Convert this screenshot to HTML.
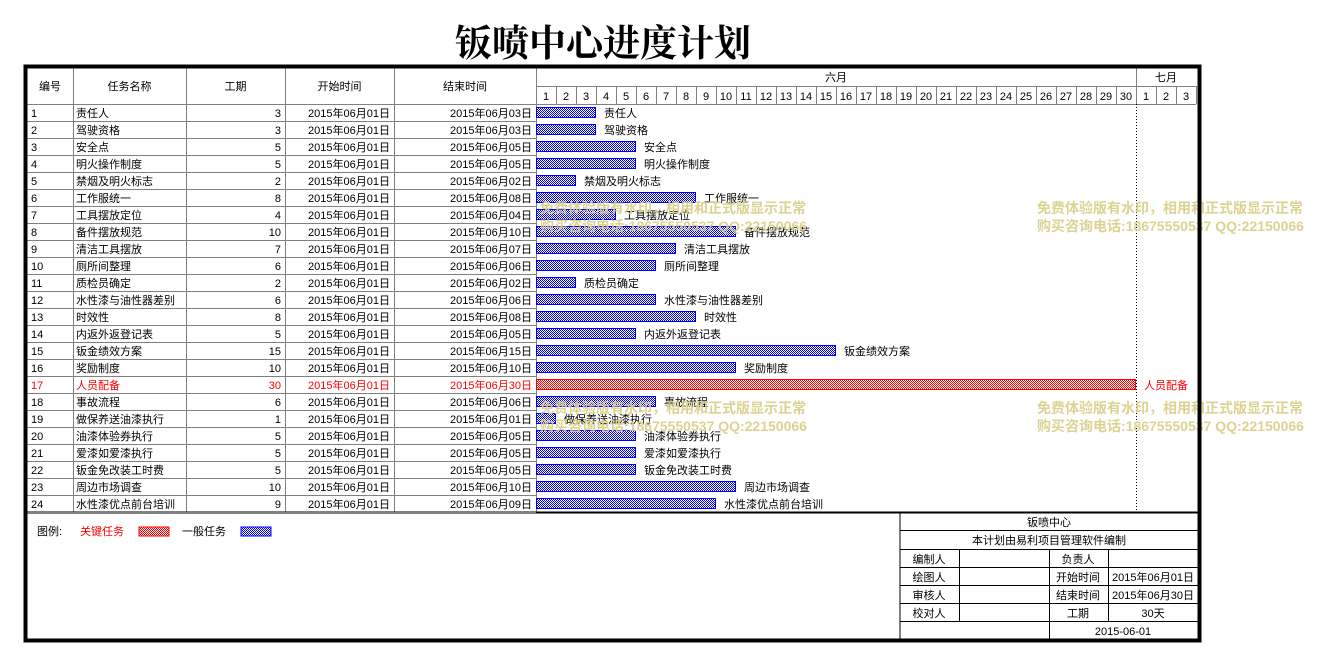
<!DOCTYPE html>
<html><head><meta charset="utf-8">
<style>
html,body{margin:0;padding:0;background:#fff;}
svg{display:block;font-family:"Liberation Sans","Noto Sans CJK SC",sans-serif;}
</style></head>
<body>
<svg id="chart" width="1320" height="667" viewBox="0 0 1320 667">
<defs>
<pattern id="pb" width="2" height="2" patternUnits="userSpaceOnUse"><rect width="2" height="2" fill="#fff"/><rect width="1" height="1" fill="#00f"/><rect x="1" y="1" width="1" height="1" fill="#00f"/></pattern>
<pattern id="pr" width="2" height="2" patternUnits="userSpaceOnUse"><rect width="2" height="2" fill="#fff"/><rect width="1" height="1" fill="#f00"/><rect x="1" y="1" width="1" height="1" fill="#f00"/></pattern>
</defs>
<text x="603" y="56" text-anchor="middle" font-size="37" font-weight="bold" font-family="'Liberation Serif','Noto Serif CJK SC',serif">钣喷中心进度计划</text>
<g id="grid"></g>
<g id="rows"></g>
<g id="bars"></g>
<g id="wm" fill="#d9cf86" font-size="14" font-weight="bold" opacity="0.9">
<text x="1037" y="213">免费体验版有水印，相用和正式版显示正常</text>
<text x="1037" y="231">购买咨询电话:18675550537 QQ:22150066</text>
<text x="1037" y="413">免费体验版有水印，相用和正式版显示正常</text>
<text x="1037" y="431">购买咨询电话:18675550537 QQ:22150066</text>
<text x="540" y="213">免费体验版有水印，相用和正式版显示正常</text>
<text x="540" y="231">购买咨询电话:18675550537 QQ:22150066</text>
<text x="540" y="413">免费体验版有水印，相用和正式版显示正常</text>
<text x="540" y="431">购买咨询电话:18675550537 QQ:22150066</text>
</g>
<g id="legend" font-size="11">
<text x="37" y="535">图例:</text>
<text x="80" y="535" fill="#f00">关键任务</text>
<rect x="139" y="527" width="30" height="9" fill="url(#pr)" stroke="#f00"/>
<text x="182" y="535">一般任务</text>
<rect x="241" y="527" width="30" height="9" fill="url(#pb)" stroke="#00f"/>
</g>
<g id="info" font-size="11" text-anchor="middle" stroke-width="1">
<g stroke="#000" fill="none">
<line x1="900" y1="513" x2="900" y2="640"/>
<line x1="900" y1="530.5" x2="1198" y2="530.5"/>
<line x1="900" y1="549.5" x2="1198" y2="549.5"/>
<line x1="900" y1="567.5" x2="1198" y2="567.5"/>
<line x1="900" y1="585.5" x2="1198" y2="585.5"/>
<line x1="900" y1="603.5" x2="1198" y2="603.5"/>
<line x1="900" y1="621.5" x2="1198" y2="621.5"/>
<line x1="959.5" y1="549" x2="959.5" y2="621"/>
<line x1="1049.5" y1="549" x2="1049.5" y2="640"/>
<line x1="1108.5" y1="549" x2="1108.5" y2="621"/>
</g>
<text x="1049" y="526">钣喷中心</text>
<text x="1049" y="544">本计划由易利项目管理软件编制</text>
<text x="929" y="563">编制人</text>
<text x="929" y="581">绘图人</text>
<text x="929" y="599">审核人</text>
<text x="929" y="617">校对人</text>
<text x="1078" y="563">负责人</text>
<text x="1078" y="581">开始时间</text>
<text x="1078" y="599">结束时间</text>
<text x="1078" y="617">工期</text>
<text x="1153" y="581">2015年06月01日</text>
<text x="1153" y="599">2015年06月30日</text>
<text x="1153" y="617">30天</text>
<text x="1123" y="635">2015-06-01</text>
</g>
<rect x="25.5" y="66.5" width="1174" height="574" fill="none" stroke="#000" stroke-width="4"/>
</svg>
<script>
const taskIds = [1,2,3,4,5,6,7,8,9,10,11,12,13,14,15,16,17,18,19,20,21,22,23,24];
const taskNames = ["责任人","驾驶资格","安全点","明火操作制度","禁烟及明火标志","工作服统一","工具摆放定位","备件摆放规范","清洁工具摆放","厕所间整理","质检员确定","水性漆与油性器差别","时效性","内返外返登记表","钣金绩效方案","奖励制度","人员配备","事故流程","做保养送油漆执行","油漆体验券执行","爱漆如爱漆执行","钣金免改装工时费","周边市场调查","水性漆优点前台培训"];
const durations = [3,3,5,5,2,8,4,10,7,6,2,6,8,5,15,10,30,6,1,5,5,5,10,9];
const startDays = [1,1,1,1,1,1,1,1,1,1,1,1,1,1,1,1,1,1,1,1,1,1,1,1];
const critical = [0,0,0,0,0,0,0,0,0,0,0,0,0,0,0,0,1,0,0,0,0,0,0,0];
const juneDays = 30, julyDays = 3;

const NS="http://www.w3.org/2000/svg";
const X0=536, DW=20, Y0=104, RH=17;
const xDay = d => X0 + (d-1)*DW;
const yRow = i => Y0 + i*RH;
const pad = n => String(n).padStart(2,'0');
function mk(tag, attrs, parent, txt){const e=document.createElementNS(NS,tag);for(const k in attrs)e.setAttribute(k,attrs[k]);if(txt!==undefined)e.textContent=txt;parent.appendChild(e);return e;}
const grid=document.getElementById('grid'), rows=document.getElementById('rows'), bars=document.getElementById('bars');
const totalDays=juneDays+julyDays, xEnd=xDay(totalDays+1), yEnd=yRow(taskIds.length);
const G="#808080";
const cols=[27,73,186,285,394,536];
const heads=["编号","任务名称","工期","开始时间","结束时间"];
for(let c=0;c<5;c++){
  const t=mk('text',{x:(cols[c]+cols[c+1])/2,y:90,'text-anchor':'middle','font-size':11},grid,heads[c]);
  
  
}
for(let c=1;c<6;c++) mk('line',{x1:cols[c]+.5,y1:68,x2:cols[c]+.5,y2:yEnd,stroke:G},grid);
mk('line',{x1:X0,y1:86.5,x2:xEnd,y2:86.5,stroke:G},grid);
mk('line',{x1:27,y1:Y0+.5,x2:xEnd,y2:Y0+.5,stroke:G},grid);
const m1=mk('text',{x:(X0+xDay(juneDays+1))/2,y:81,'text-anchor':'middle','font-size':11},grid,"六月");

const m2=mk('text',{x:(xDay(juneDays+1)+xEnd)/2,y:81,'text-anchor':'middle','font-size':11},grid,"七月");

mk('line',{x1:xDay(juneDays+1)+.5,y1:68,x2:xDay(juneDays+1)+.5,y2:86,stroke:G},grid);
for(let d=1;d<=totalDays;d++){
  const lbl=d<=juneDays?d:d-juneDays;
  const t=mk('text',{x:xDay(d)+DW/2,y:100,'text-anchor':'middle','font-size':11},grid,lbl);
  
  
  mk('line',{x1:xDay(d+1)+.5,y1:86,x2:xDay(d+1)+.5,y2:104,stroke:G},grid);
}
mk('line',{x1:xDay(juneDays+1)+.5,y1:104,x2:xDay(juneDays+1)+.5,y2:513,stroke:"#000",'stroke-dasharray':'1,2'},grid);
taskIds.forEach((id,i)=>{
  const y=yRow(i), ty=y+13, col=critical[i]?"#f00":"#000";
  const end=startDays[i]+durations[i]-1;
  const g=mk('g',{fill:col,'font-size':11},rows);
  
  
  mk('text',{x:31,y:ty},g,id);
  mk('text',{x:76,y:ty},g,taskNames[i]);
  mk('text',{x:281,y:ty,'text-anchor':'end'},g,durations[i]);
  mk('text',{x:390,y:ty,'text-anchor':'end'},g,"2015年06月"+pad(startDays[i])+"日");
  mk('text',{x:532,y:ty,'text-anchor':'end'},g,"2015年06月"+pad(end)+"日");
  mk('line',{x1:27,y1:y+RH+.5,x2:X0,y2:y+RH+.5,stroke:G},rows);
  const b=mk('rect',{x:xDay(startDays[i])+.5,y:y+3.5,width:durations[i]*DW-1,height:10,fill:critical[i]?"url(#pr)":"url(#pb)",stroke:critical[i]?"#f00":"#00f"},bars);
  
  
  const l=mk('text',{x:xDay(startDays[i])+durations[i]*DW+8,y:ty,'font-size':11,fill:col},bars,taskNames[i]);
  
  
});
mk('line',{x1:27,y1:yEnd+.5,x2:1198,y2:yEnd+.5,stroke:"#000",'stroke-width':2},grid);
</script>
</body></html>
